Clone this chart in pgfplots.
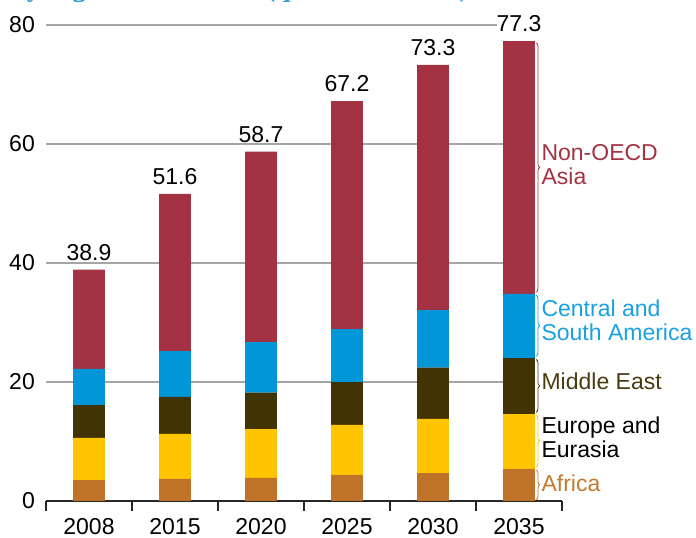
\documentclass[border=0pt]{standalone}
\usepackage{pgfplots}
\pgfplotsset{compat=1.18}
\usepackage{fontspec}
\setmainfont{Liberation Sans}
\newfontfamily\titlefont{Liberation Serif}
\usetikzlibrary{decorations.pathreplacing}

\definecolor{asia}{RGB}{163,51,66}
\definecolor{csa}{RGB}{0,150,215}
\definecolor{mideast}{RGB}{66,51,5}
\definecolor{eurasia}{RGB}{255,198,0}
\definecolor{africa}{RGB}{190,115,41}
\definecolor{csatext}{RGB}{27,160,225}
\definecolor{metext}{RGB}{74,60,16}
\definecolor{africatext}{RGB}{196,122,48}
\definecolor{titleblue}{RGB}{47,158,216}
\definecolor{gridgray}{RGB}{165,165,165}

\pgfplotsset{
  frame/.style={
    at={(0,0)}, anchor=south west,
    scale only axis, width=516pt, height=476pt,
    xmin=-0.5, xmax=5.5, ymin=0, ymax=80,
    clip=false,
  }
}

\begin{document}
\begin{tikzpicture}[font=\fontsize{23}{24}\selectfont]
\path[use as bounding box] (-46pt,-37pt) rectangle (650pt,501pt);
\node[anchor=base west, inner sep=0pt, text=titleblue,
      font=\titlefont\bfseries\fontsize{28}{30}\selectfont]
  at (-35pt,504pt) {by region, 2008-2035 (quadrillion Btu)};

% back layer: grid lines (they stop at the last bar) and the totals
\begin{axis}[frame, hide axis]
\draw[gridgray, line width=1.3pt] (axis cs:-0.5,20) -- (axis cs:5.1,20);
\draw[gridgray, line width=1.3pt] (axis cs:-0.5,40) -- (axis cs:5.1,40);
\draw[gridgray, line width=1.3pt] (axis cs:-0.5,60) -- (axis cs:5.1,60);
\draw[gridgray, line width=1.3pt] (axis cs:-0.5,80) -- (axis cs:5.1,80);
\addplot[only marks, mark=none, point meta=explicit symbolic, nodes near coords,
  every node near coord/.append style={anchor=south, inner sep=0pt, yshift=9pt,
    text=black, fill=white}]
  coordinates {(0,38.9) [38.9] (1,51.6) [51.6] (2,58.7) [58.7] (3,67.2) [67.2] (4,73.3) [73.3] (5,77.3) [77.3]};
\end{axis}

\begin{axis}[
  frame,
  ybar stacked, bar width=0.372,
  axis x line*=bottom, axis y line*=left,
  y axis line style={draw=none},
  x axis line style={black!85, line width=1.3pt},
  xtick={0,1,2,3,4,5},
  xticklabels={2008,2015,2020,2025,2030,2035},
  minor xtick={-0.5,0.5,1.5,2.5,3.5,4.5,5.5},
  major tick length=0pt, minor tick length=10pt,
  tick align=outside,
  every minor x tick/.style={black!85, line width=1.3pt},
  ytick={0,20,40,60,80},
  /pgf/number format/assume math mode=true,
  yticklabel style={anchor=east, inner sep=0pt, xshift=-11pt},
  xticklabel style={anchor=north, inner sep=0pt, yshift=-17pt},
  every axis plot/.append style={draw=none},
]
\addplot[fill=africa] coordinates {(0,3.5) (1,3.7) (2,3.9) (3,4.4) (4,4.7) (5,5.4)};
\addplot[fill=eurasia] coordinates {(0,7.1) (1,7.6) (2,8.2) (3,8.4) (4,9.1) (5,9.2)};
\addplot[fill=mideast] coordinates {(0,5.5) (1,6.2) (2,6.1) (3,7.2) (4,8.6) (5,9.4)};
\addplot[fill=csa] coordinates {(0,6.1) (1,7.7) (2,8.5) (3,8.9) (4,9.7) (5,10.8)};
\addplot[fill=asia] coordinates {(0,16.7) (1,26.4) (2,32.0) (3,38.3) (4,41.2) (5,42.5)};

\draw[asia, line width=0.8pt, decorate, decoration={brace, amplitude=3.5pt}]
  (axis cs:5.2,77.0) -- (axis cs:5.2,35.1);
\draw[csatext, line width=0.8pt, decorate, decoration={brace, amplitude=3.5pt}]
  (axis cs:5.2,34.6) -- (axis cs:5.2,24.3);
\draw[metext, line width=0.8pt, decorate, decoration={brace, amplitude=3.5pt}]
  (axis cs:5.2,23.8) -- (axis cs:5.2,14.9);
\draw[eurasia, line width=0.8pt, decorate, decoration={brace, amplitude=3.5pt}]
  (axis cs:5.2,14.4) -- (axis cs:5.2,5.7);
\draw[africatext, line width=0.8pt, decorate, decoration={brace, amplitude=3.5pt}]
  (axis cs:5.2,5.2) -- (axis cs:5.2,0.2);

\node[anchor=west, align=left, text=asia, inner sep=0pt] at (axis cs:5.26,56.5) {Non-OECD\\Asia};
\node[anchor=west, align=left, text=csatext, inner sep=0pt] at (axis cs:5.26,30.4) {Central and\\South America};
\node[anchor=west, align=left, text=metext, inner sep=0pt] at (axis cs:5.26,20.2) {Middle East};
\node[anchor=west, align=left, text=black, inner sep=0pt] at (axis cs:5.26,10.7) {Europe and\\Eurasia};
\node[anchor=west, align=left, text=africatext, inner sep=0pt] at (axis cs:5.26,3.0) {Africa};
\end{axis}
\end{tikzpicture}
\end{document}
